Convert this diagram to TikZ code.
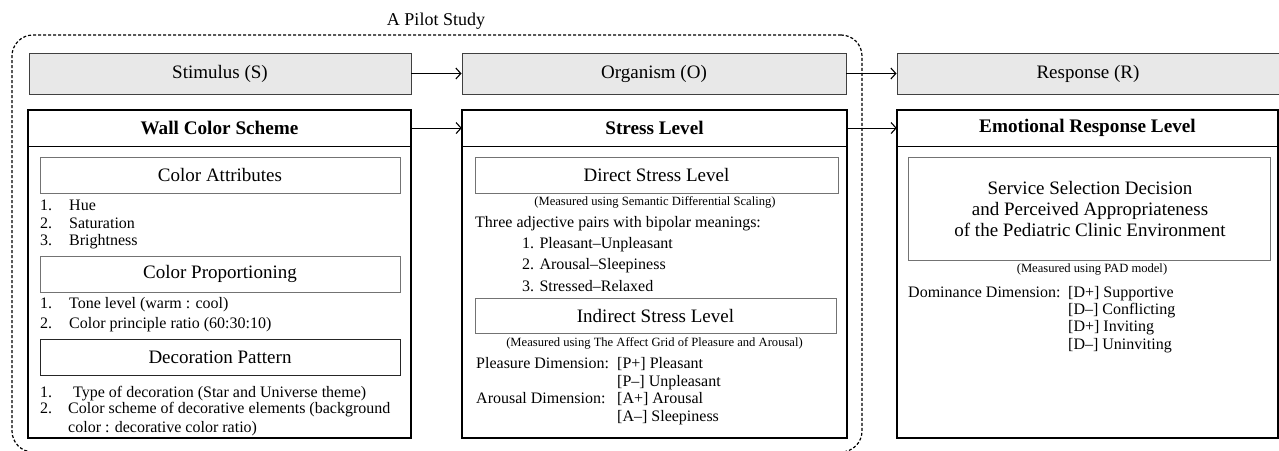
\documentclass[tikz,border=0pt]{standalone}
\usepackage{fontspec}
\setmainfont{Liberation Serif}
\usetikzlibrary{arrows.meta}

\begin{document}
\begin{tikzpicture}[x=1pt,y=-1pt,
  hdr/.style={draw=black!75, fill=black!9, line width=0.9pt, minimum height=41pt,
    inner sep=0pt, font=\fontsize{19}{22}\selectfont},
  mainbox/.style={draw=black, line width=1.3pt, minimum height=328pt, inner sep=0pt},
  titlebar/.style={minimum height=37pt, inner sep=0pt, anchor=north,
    font=\bfseries\fontsize{19.2}{22}\selectfont},
  rule/.style={line width=1.3pt},
  subbox/.style={draw=black!55, line width=0.9pt, minimum height=36pt, inner sep=0pt,
    font=\fontsize{19}{22}\selectfont},
  body/.style={inner sep=0pt, anchor=base west, font=\fontsize{16}{19}\selectfont},
  bodyc/.style={inner sep=0pt, anchor=base, font=\fontsize{19}{22}\selectfont},
  note/.style={inner sep=0pt, anchor=base, font=\fontsize{12.6}{15}\selectfont},
  flow/.style={line width=1.1pt, -{Straight Barb[length=5pt,width=11pt]}},
  pilot/.style={draw, line width=1.2pt, dash pattern=on 3pt off 2pt,
    rounded corners=21pt, inner sep=0pt}
]
\useasboundingbox (0,0) rectangle (1279,450);

% pilot study frame
\node[pilot, minimum width=850pt, minimum height=417pt] (pilotbox) at (437,243.5) {};
\node[inner sep=0pt, anchor=base, font=\fontsize{18}{21}\selectfont] (pilotlabel) at (436,25) {A Pilot Study};

% S-O-R header row
\node[hdr, minimum width=382pt] (stim) at (220,73.5) {Stimulus (S)};
\node[hdr, minimum width=384pt] (org) at (654,73.5) {Organism (O)};
\node[hdr, minimum width=382pt] (resp) at (1088,73.5) {Response (R)};
\draw[flow] (stim.east) -- (org.west);
\draw[flow] (org.east) -- (resp.west);

% main boxes
\node[mainbox, minimum width=383pt] (wall) at (219.5,274) {};
\node[mainbox, minimum width=385pt] (stress) at (654.5,274) {};
\node[mainbox, minimum width=381pt] (emo) at (1087.5,274) {};
\node[titlebar, minimum width=383pt] (wallT) at (wall.north) {Wall Color Scheme};
\node[titlebar, minimum width=385pt] (stressT) at (stress.north) {Stress Level};
\node[titlebar, minimum width=381pt] (emoT) at (emo.north) {Emotional Response Level};
\draw[rule] (wallT.south west) -- (wallT.south east);
\draw[rule] (stressT.south west) -- (stressT.south east);
\draw[rule] (emoT.south west) -- (emoT.south east);
\draw[flow] (wallT.east) -- (stressT.west);
\draw[flow] (stressT.east) -- (emoT.west);

% stimulus column
\node[subbox, minimum width=360pt] (attr) at (220,175) {Color Attributes};
\node[body] (attr1n) at (40,210) {1.};
\node[body] (attr1) at (69,210) {Hue};
\node[body] (attr2n) at (40,228) {2.};
\node[body] (attr2) at (69,228) {Saturation};
\node[body] (attr3n) at (40,245) {3.};
\node[body] (attr3) at (69,245) {Brightness};

\node[subbox, minimum width=360pt] (prop) at (220,274) {Color Proportioning};
\node[body] (prop1n) at (40,308) {1.};
\node[body] (prop1) at (69,308) {Tone level (warm : cool)};
\node[body] (prop2n) at (40,328) {2.};
\node[body] (prop2) at (69,328) {Color principle ratio (60:30:10)};

\node[subbox, draw=black!85, minimum width=360pt] (deco) at (220,357) {Decoration Pattern};
\node[body] (deco1n) at (40,397) {1.};
\node[body] (deco1) at (73,397) {Type of decoration (Star and Universe theme)};
\node[body] (deco2n) at (40,413) {2.};
\node[body] (deco2) at (68,413) {Color scheme of decorative elements (background};
\node[body] (deco2b) at (68,432) {color : decorative color ratio)};

% organism column
\node[subbox, minimum width=363pt] (direct) at (656.5,175) {Direct Stress Level};
\node[note] (directnote) at (655,205) {(Measured using Semantic Differential Scaling)};
\node[body] (pairs) at (475,227) {Three adjective pairs with bipolar meanings:};
\node[body] (pair1) at (522,248) {1. Pleasant--Unpleasant};
\node[body] (pair2) at (522,269) {2. Arousal--Sleepiness};
\node[body] (pair3) at (522,291) {3. Stressed--Relaxed};

\node[subbox, minimum width=361pt, minimum height=35pt] (indirect) at (655.5,315.5) {Indirect Stress Level};
\node[note] (indirectnote) at (654.5,346) {(Measured using The Affect Grid of Pleasure and Arousal)};
\node[body] (pdim) at (476,368) {Pleasure Dimension:};
\node[body] (pplus) at (617,368) {[P+] Pleasant};
\node[body] (pminus) at (617,386) {[P--] Unpleasant};
\node[body] (adim) at (476,403) {Arousal Dimension:};
\node[body] (aplus) at (617,403) {[A+] Arousal};
\node[body] (aminus) at (617,421) {[A--] Sleepiness};

% response column
\node[subbox, minimum width=362pt, minimum height=103pt] (service) at (1089,208.5) {};
\node[bodyc] (serv1) at (1090,194) {Service Selection Decision};
\node[bodyc] (serv2) at (1090,215) {and Perceived Appropriateness};
\node[bodyc] (serv3) at (1090,236) {of the Pediatric Clinic Environment};
\node[note] (padnote) at (1092,272) {(Measured using PAD model)};
\node[body] (ddim) at (908,297) {Dominance Dimension:};
\node[body] (d1) at (1068,297) {[D+] Supportive};
\node[body] (d2) at (1068,314) {[D--] Conflicting};
\node[body] (d3) at (1068,331) {[D+] Inviting};
\node[body] (d4) at (1068,349) {[D--] Uninviting};
\end{tikzpicture}
\end{document}
